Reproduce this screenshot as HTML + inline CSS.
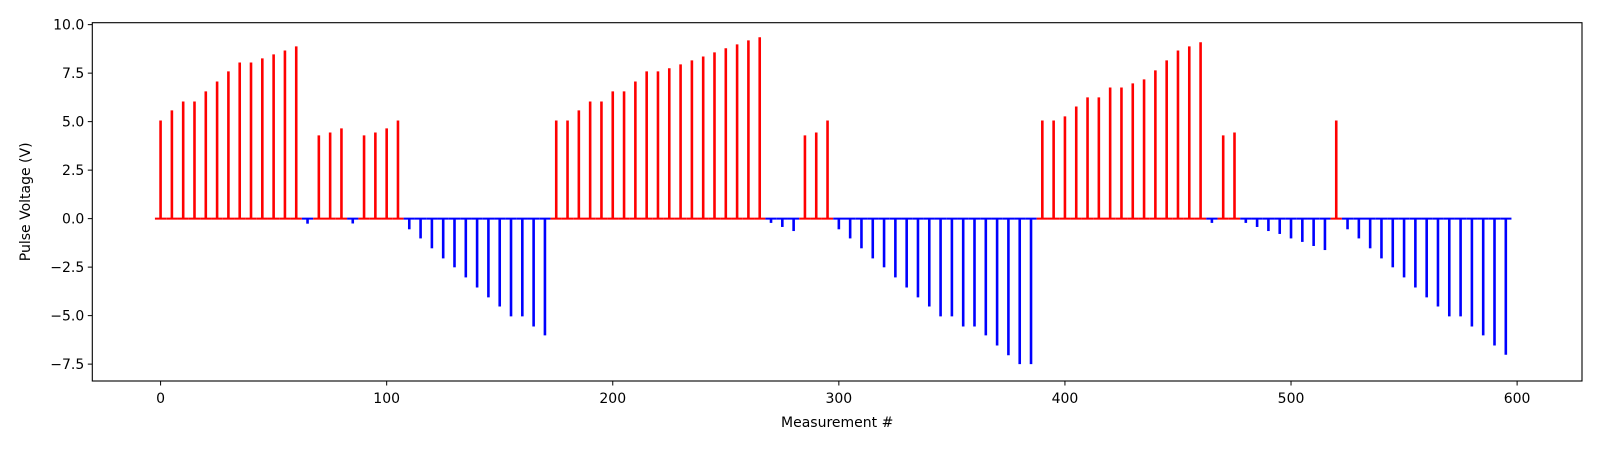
<!DOCTYPE html>
<html><head><meta charset="utf-8"><style>
body{margin:0;background:#fff;}
svg text{font-family:"DejaVu Sans","Liberation Sans",sans-serif;fill:#000;}
</style></head><body>
<svg id="chart" width="1600" height="450" xmlns="http://www.w3.org/2000/svg">
<g id="stems"></g>
<g id="axes"></g>
</svg>
<script>
const positiveColor = "#ff0000";
const negativeColor = "#0000ff";
const measurementStep = 5;
const voltages = [
 5.06,5.58,6.04,6.04,6.56,7.07,7.59,8.05,8.05,8.26,8.47,8.67,8.88,
 -0.26,
 4.29,4.44,4.65,
 -0.25,
 4.29,4.44,4.65,5.06,
 -0.55,-1.02,-1.53,-2.05,-2.51,-3.03,-3.55,-4.06,-4.53,-5.04,-5.04,-5.56,-6.02,
 5.06,5.06,5.58,6.04,6.04,6.56,6.56,7.07,7.59,7.59,7.75,7.95,8.16,8.36,8.57,8.78,8.98,9.19,9.35,
 -0.22,-0.43,-0.64,
 4.29,4.44,5.06,
 -0.55,-1.02,-1.53,-2.05,-2.51,-3.03,-3.55,-4.06,-4.53,-5.04,-5.04,-5.56,-5.56,-6.02,-6.54,-7.04,-7.5,-7.5,
 5.06,5.06,5.27,5.78,6.25,6.25,6.76,6.76,6.97,7.18,7.64,8.16,8.67,8.88,9.09,
 -0.22,
 4.29,4.44,
 -0.22,-0.43,-0.64,-0.79,-1.02,-1.2,-1.41,-1.62,
 5.06,
 -0.55,-1.02,-1.53,-2.05,-2.51,-3.03,-3.55,-4.06,-4.53,-5.04,-5.04,-5.56,-6.02,-6.54,
 -7.02
];
const xTicks = [0,100,200,300,400,500,600];
const yTicks = [-7.5,-5.0,-2.5,0.0,2.5,5.0,7.5,10.0];

const L=92.3,R=1582,T=22.7,B=381;
const xMin=-30.2,xMax=628.7,yMin=-8.37,yMax=10.1;
const xs=v=>L+(v-xMin)/(xMax-xMin)*(R-L);
const ys=v=>B-(v-yMin)/(yMax-yMin)*(B-T);
const NS="http://www.w3.org/2000/svg";
function mk(tag,attrs,parent){const e=document.createElementNS(NS,tag);for(const k in attrs)e.setAttribute(k,attrs[k]);parent.appendChild(e);return e;}

const stems=document.getElementById('stems');
voltages.forEach((v,i)=>{
  const m=i*measurementStep;
  const c=v>0?positiveColor:negativeColor;
  const base=mk('line',{x1:xs(m-2.5),x2:xs(m+2.5),y1:ys(0),y2:ys(0),stroke:c,'stroke-width':2},stems);
  
  
  const s=mk('line',{x1:xs(m),x2:xs(m),y1:ys(0),y2:ys(v),stroke:c,'stroke-width':2.6},stems);
  
  
});

const ax=document.getElementById('axes');
const frame=mk('rect',{x:L,y:T,width:R-L,height:B-T,fill:'none',stroke:'#000','stroke-width':1.1},ax);


xTicks.forEach(t=>{
  const tk=mk('line',{x1:xs(t),x2:xs(t),y1:B,y2:B+4.5,stroke:'#000','stroke-width':1},ax);
  
  
  const tx=mk('text',{x:xs(t),y:B+22,'text-anchor':'middle','font-size':14},ax);
  tx.textContent=String(t);
  
  
});
yTicks.forEach(t=>{
  const tk=mk('line',{x1:L-4.5,x2:L,y1:ys(t),y2:ys(t),stroke:'#000','stroke-width':1},ax);
  
  
  const tx=mk('text',{x:L-8,y:ys(t)+5,'text-anchor':'end','font-size':14},ax);
  tx.textContent=t.toFixed(1).replace('-','\u2212');
  
  
});
const xl=mk('text',{x:(L+R)/2,y:427,'text-anchor':'middle','font-size':14},ax);
xl.textContent='Measurement #';


const yl=mk('text',{x:0,y:0,'text-anchor':'middle','font-size':14,transform:'translate(30,'+((T+B)/2)+') rotate(-90)'},ax);
yl.textContent='Pulse Voltage (V)';


</script>
</body></html>
